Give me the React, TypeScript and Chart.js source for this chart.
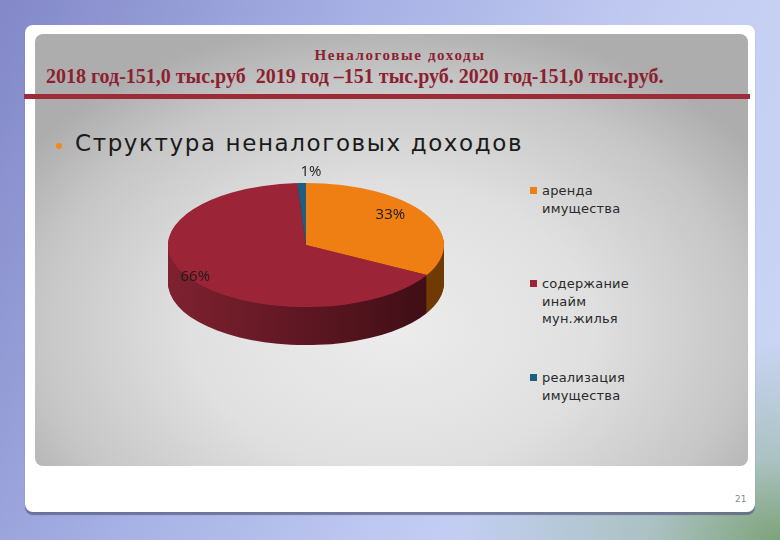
import React, { useEffect, useRef } from "react";
import { Chart, registerables } from "chart.js";

Chart.register(...registerables);

const categories: string[][] = [
  ["аренда", "имущества"],
  ["содержание", "инайм", "мун.жилья"],
  ["реализация", "имущества"],
];
const shares: number[] = [33, 66, 1];
const pctLabels: string[] = ["33%", "66%", "1%"];
const topColors: string[] = ["#ef7f12", "#9b2536", "#1f5f7e"];
const sideColorsLeft: string[] = ["#a05a08", "#7f2130", "#16465c"];
const sideColorsRight: string[] = ["#6e3a02", "#3b0d14", "#0e2c3a"];

const TITLE = "Неналоговые доходы";
const SUBTITLE = "2018 год-151,0 тыс.руб  2019 год –151 тыс.руб. 2020 год-151,0 тыс.руб.";
const BULLET = "Структура неналоговых доходов";
const PAGE = "21";

const K = 0.45; // vertical squash
const DEPTH = 38;
const TOP_CY = 135;
const LABEL_F: number[][] = [
  [0.71, 0.95],
  [0.95, 0.95],
  [-1.15, 1.18],
];

function squash(ctx: CanvasRenderingContext2D, cx: number, cy: number) {
  ctx.translate(cx, TOP_CY);
  ctx.scale(1, K);
  ctx.translate(-cx, -cy);
}

const pie3d = {
  id: "pie3d",
  beforeDatasetsDraw(chart: any) {
    const ctx: CanvasRenderingContext2D = chart.ctx;
    const arcs = chart.getDatasetMeta(0).data;
    if (!arcs.length) return;
    const cx = arcs[0].x;
    const cy = arcs[0].y;
    for (let d = DEPTH; d >= 1; d--) {
      ctx.save();
      ctx.translate(0, d);
      squash(ctx, cx, cy);
      arcs.forEach((a: any, i: number) => {
        const p = a.getProps(["x", "y", "startAngle", "endAngle", "outerRadius"]);
        const g = ctx.createLinearGradient(p.x - p.outerRadius, 0, p.x + p.outerRadius, 0);
        g.addColorStop(0, sideColorsLeft[i]);
        g.addColorStop(1, sideColorsRight[i]);
        ctx.fillStyle = g;
        ctx.beginPath();
        ctx.moveTo(p.x, p.y);
        ctx.arc(p.x, p.y, p.outerRadius, p.startAngle, p.endAngle);
        ctx.closePath();
        ctx.fill();
      });
      ctx.restore();
    }
    ctx.save();
    squash(ctx, cx, cy);
  },
  afterDatasetsDraw(chart: any) {
    const ctx: CanvasRenderingContext2D = chart.ctx;
    ctx.restore();
    const arcs = chart.getDatasetMeta(0).data;
    ctx.save();
    ctx.font = "15px 'Open Sans', sans-serif";
    ctx.fillStyle = "#1c1c1c";
    ctx.textAlign = "center";
    ctx.textBaseline = "middle";
    arcs.forEach((a: any, i: number) => {
      const p = a.getProps(["x", "y", "startAngle", "endAngle", "outerRadius"]);
      const m = (p.startAngle + p.endAngle) / 2;
      const x = p.x + Math.cos(m) * p.outerRadius * LABEL_F[i][0];
      const y = TOP_CY + Math.sin(m) * p.outerRadius * K * LABEL_F[i][1];
      ctx.fillText(pctLabels[i], x, y);
    });
    ctx.restore();
  },
};

function PieChart() {
  const ref = useRef<HTMLCanvasElement>(null);
  useEffect(() => {
    if (!ref.current) return;
    const chart = new Chart(ref.current, {
      type: "pie",
      data: {
        labels: categories.map((c) => c.join(" ")),
        datasets: [
          {
            data: shares,
            backgroundColor: topColors,
            borderWidth: 0,
            clip: false as any,
          },
        ],
      },
      options: {
        responsive: false,
        maintainAspectRatio: false,
        animation: false,
        layout: { padding: { left: 32, right: 32, top: 12, bottom: 12 } },
        plugins: {
          legend: { display: false },
          tooltip: { enabled: false },
        },
      },
      plugins: [pie3d],
    });
    return () => chart.destroy();
  }, []);
  return (
    <canvas
      ref={ref}
      width={340}
      height={300}
      style={{ position: "absolute", left: 136, top: 110, width: 340, height: 300 }}
    />
  );
}

export default function App() {
  return (
    <div
      style={{
        position: "absolute",
        left: 0,
        top: 0,
        width: 780,
        height: 540,
        overflow: "hidden",
        background:
          "radial-gradient(ellipse 320px 200px at 100% 100%, rgba(120,160,115,0.95) 0%, rgba(150,180,160,0.6) 40%, rgba(200,215,240,0) 100%), linear-gradient(115deg, #8288c8 0%, #a6b0e4 35%, #c2ccf2 65%, #ccd8f4 100%)",
      }}
    >
      {/* white card */}
      <div
        style={{
          position: "absolute",
          left: 25,
          top: 25,
          width: 730,
          height: 487,
          background: "#ffffff",
          borderRadius: 8,
          boxShadow: "0 3px 1px rgba(90,95,130,0.75)",
        }}
      />
      {/* gray panel */}
      <div
        style={{
          position: "absolute",
          left: 35,
          top: 34,
          width: 713,
          height: 432,
          borderRadius: 8,
          background:
            "radial-gradient(ellipse 62% 72% at 50% 68%, #ececec 0%, #e0e0e0 45%, #c6c6c6 80%, #adadad 100%)",
        }}
      />
      {/* red rule */}
      <div
        style={{
          position: "absolute",
          left: 24,
          top: 94,
          width: 726,
          height: 5,
          background: "#9e2b3b",
        }}
      />
      <div
        style={{
          position: "absolute",
          left: 35,
          top: 47,
          width: 730,
          textAlign: "center",
          font: "bold 15px 'Liberation Serif', serif",
          letterSpacing: 1.6,
          color: "#8c1f30",
          whiteSpace: "pre",
        }}
      >
        {TITLE}
      </div>
      <div
        style={{
          position: "absolute",
          left: 46,
          top: 65,
          font: "bold 20px 'Liberation Serif', serif",
          color: "#8c1f30",
          whiteSpace: "pre",
        }}
      >
        {SUBTITLE}
      </div>
      {/* bullet */}
      <div
        style={{
          position: "absolute",
          left: 56,
          top: 143,
          width: 6,
          height: 6,
          borderRadius: 3,
          background: "#ee8a1e",
        }}
      />
      <div
        style={{
          position: "absolute",
          left: 75,
          top: 130,
          font: "23px 'DejaVu Sans', sans-serif",
          letterSpacing: 1.6,
          color: "#1a1a1a",
          whiteSpace: "pre",
        }}
      >
        {BULLET}
      </div>
      <PieChart />
      {/* legend */}
      {categories.map((lines, i) => (
        <div
          key={i}
          style={{ position: "absolute", left: 530, top: [182, 275, 369][i] }}
        >
          <div
            style={{
              position: "absolute",
              left: 0,
              top: 5,
              width: 7,
              height: 7,
              background: topColors[i],
            }}
          />
          <div
            style={{
              position: "absolute",
              left: 12,
              top: 0,
              font: "13px 'DejaVu Sans', sans-serif",
              letterSpacing: 0.2,
              lineHeight: "17.5px",
              color: "#2a2a2a",
              whiteSpace: "pre",
            }}
          >
            {lines.join("\n")}
          </div>
        </div>
      ))}
      <div
        style={{
          position: "absolute",
          left: 735,
          top: 494,
          font: "9px 'DejaVu Sans', sans-serif",
          color: "#8a8a8a",
        }}
      >
        {PAGE}
      </div>
    </div>
  );
}
